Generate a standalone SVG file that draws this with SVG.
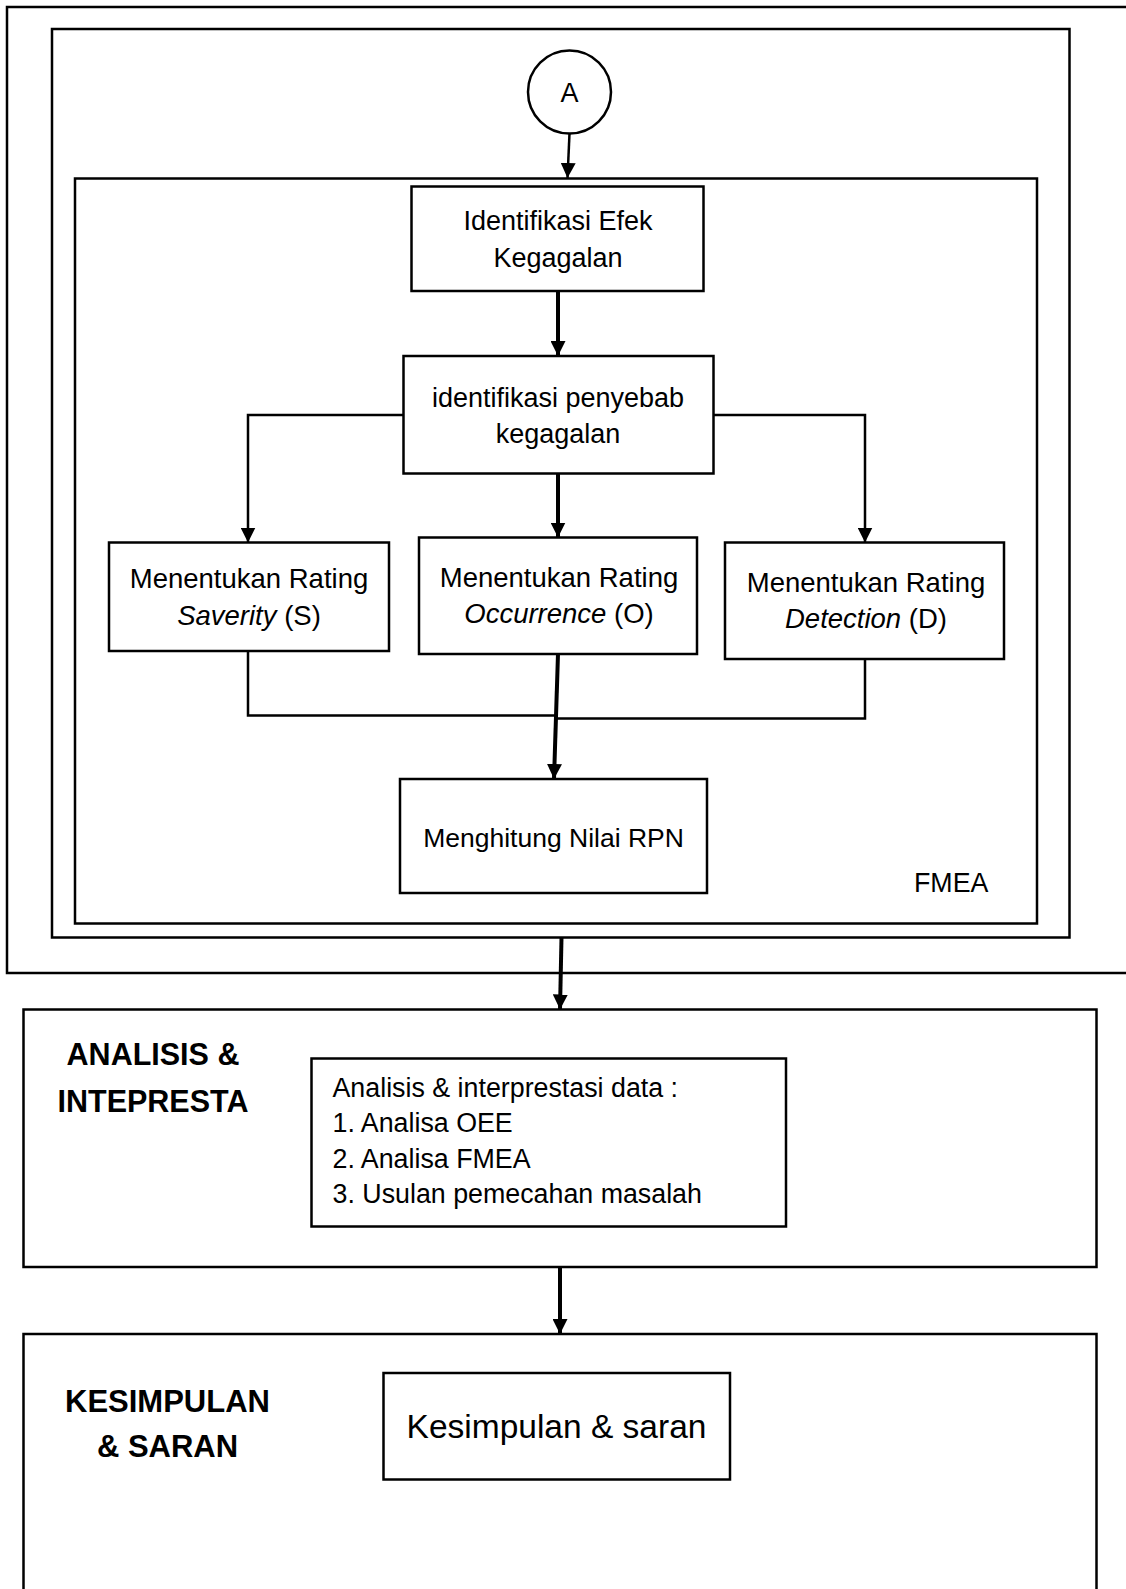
<svg xmlns="http://www.w3.org/2000/svg" width="1126" height="1589" viewBox="0 0 1126 1589">
<style>
  .frame { fill: none; stroke: #000; stroke-width: 2.5; }
  .box { fill: #fff; stroke: #000; stroke-width: 2.5; }
  .t { font-family: "Liberation Sans", Arial, sans-serif; font-size: 27px; fill: #000; text-anchor: middle; }
  .tl { font-family: "Liberation Sans", Arial, sans-serif; font-size: 26.8px; fill: #000; }
  .h { font-family: "Liberation Sans", Arial, sans-serif; font-size: 30.5px; font-weight: bold; fill: #000; text-anchor: middle; }
  .c { fill: none; stroke: #000; stroke-width: 2.5; }
  .ck { fill: none; stroke: #000; stroke-width: 4; }
</style>
<defs>
  <marker id="ah" markerUnits="userSpaceOnUse" markerWidth="15" markerHeight="15" refX="15" refY="7.5" orient="auto">
    <path d="M0,0 L15,7.5 L0,15 z" fill="#000"/>
  </marker>
</defs>
<rect width="1126" height="1589" fill="#fff"/>

<g id="frame-outer"><rect class="frame" x="7" y="7" width="1140" height="966"/></g>
<g id="frame-second"><rect class="frame" x="52" y="29" width="1017.5" height="908.5"/></g>
<g id="frame-fmea">
  <rect class="frame" x="75" y="178.5" width="962" height="745"/>
  <text class="tl" x="914" y="891.5">FMEA</text>
</g>

<g id="node-a">
  <circle cx="569.5" cy="92" r="41.5" fill="#fff" stroke="#000" stroke-width="2.5"/>
  <text class="t" x="569.5" y="101.5">A</text>
</g>

<g id="node-efek">
  <rect class="box" x="411.5" y="186.5" width="292" height="104.5"/>
  <text class="t" x="558" y="230">Identifikasi Efek</text>
  <text class="t" x="558" y="266.5">Kegagalan</text>
</g>

<g id="node-penyebab">
  <rect class="box" x="403.5" y="356" width="310" height="117.5"/>
  <text class="t" x="558" y="406.5">identifikasi penyebab</text>
  <text class="t" x="558" y="443">kegagalan</text>
</g>

<g id="node-severity">
  <rect class="box" x="109" y="542.5" width="280" height="108.5"/>
  <text class="t" x="249" y="588" style="font-size:27.5px">Menentukan Rating</text>
  <text class="t" x="249" y="625" style="font-size:27.5px"><tspan font-style="italic">Saverity</tspan> (S)</text>
</g>

<g id="node-occurrence">
  <rect class="box" x="419" y="537.5" width="278" height="116.5"/>
  <text class="t" x="559" y="586.5" style="font-size:27.5px">Menentukan Rating</text>
  <text class="t" x="559" y="622.5" style="font-size:27.5px"><tspan font-style="italic">Occurrence</tspan> (O)</text>
</g>

<g id="node-detection">
  <rect class="box" x="725" y="542.5" width="279" height="116.5"/>
  <text class="t" x="866" y="591.5" style="font-size:27.5px">Menentukan Rating</text>
  <text class="t" x="866" y="628" style="font-size:27.5px"><tspan font-style="italic">Detection</tspan> (D)</text>
</g>

<g id="node-rpn">
  <rect class="box" x="400" y="779" width="307" height="114"/>
  <text class="t" x="553.5" y="846.5" style="font-size:26.5px">Menghitung Nilai RPN</text>
</g>

<g id="node-analisis">
  <rect class="box" x="23.5" y="1009.5" width="1073" height="257.5"/>
  <text class="h" x="153" y="1065">ANALISIS &amp;</text>
  <text class="h" x="153" y="1111.5">INTEPRESTA</text>
  <rect class="box" x="311.5" y="1058.5" width="474.5" height="168"/>
  <text class="tl" x="332.5" y="1096.5">Analisis &amp; interprestasi data :</text>
  <text class="tl" x="332.5" y="1131.5">1. Analisa OEE</text>
  <text class="tl" x="332.5" y="1168">2. Analisa FMEA</text>
  <text class="tl" x="332.5" y="1203">3. Usulan pemecahan masalah</text>
</g>

<g id="node-kesimpulan">
  <rect class="box" x="23.5" y="1334" width="1073" height="300"/>
  <text class="h" x="167.5" y="1411.5" style="font-size:31px">KESIMPULAN</text>
  <text class="h" x="167.5" y="1456.5" style="font-size:31px">&amp; SARAN</text>
  <rect class="box" x="383.5" y="1373" width="346.5" height="106.5"/>
  <text class="t" x="556.5" y="1438" style="font-size:33.5px">Kesimpulan &amp; saran</text>
</g>

<g id="connectors">
  <path class="c" d="M569.5,133.5 L567.5,178" marker-end="url(#ah)"/>
  <path class="ck" d="M558,291 L558,356" marker-end="url(#ah)"/>
  <path class="c" d="M403.5,415 L248,415 L248,542.5" marker-end="url(#ah)"/>
  <path class="c" d="M713.5,415 L865,415 L865,542.5" marker-end="url(#ah)"/>
  <path class="ck" d="M558,473.5 L558,537.5" marker-end="url(#ah)"/>
  <path class="c" d="M248,651 L248,715.5 L557,715.5"/>
  <path class="c" d="M865,659 L865,718.5 L556,718.5"/>
  <path class="ck" d="M558,654 L554,779" marker-end="url(#ah)"/>
  <path class="ck" d="M561.5,937.5 L560,1009.5" marker-end="url(#ah)"/>
  <path class="ck" d="M560,1267 L560,1334" marker-end="url(#ah)"/>
</g>
</svg>
